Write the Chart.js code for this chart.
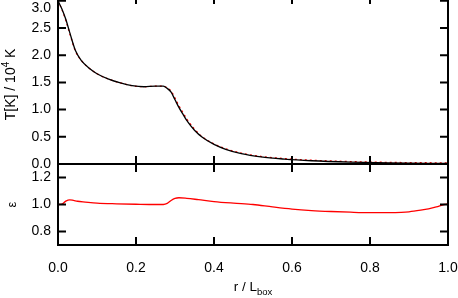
<!DOCTYPE html>
<html>
<head>
<meta charset="utf-8">
<script src="https://cdn.jsdelivr.net/npm/chart.js@4.4.1/dist/chart.umd.min.js"></script>
<style>
    html, body { margin: 0; padding: 0; background: #fff; overflow: hidden; }
    /* o topo da moldura fica 4px acima da janela, como no original */
    #grafico { display: block; margin-top: -4px; }
</style>
</head>
<body>
<canvas id="grafico" width="458" height="302"></canvas>
<script>
// Perfil de temperatura (painel de cima)
const raioT = [0, 0.01, 0.02, 0.03, 0.045, 0.06, 0.08, 0.1, 0.13, 0.16, 0.19, 0.22, 0.25, 0.27, 0.28,
    0.29, 0.30, 0.31, 0.32, 0.33, 0.35, 0.37, 0.40, 0.43, 0.47, 0.52, 0.58, 0.65, 0.75, 0.85, 1.0];
const tempPreto = [3.0, 2.85, 2.66, 2.42, 2.08, 1.9, 1.76, 1.66, 1.56, 1.49, 1.44, 1.42, 1.43, 1.43, 1.39,
    1.32, 1.18, 1.04, 0.92, 0.80, 0.62, 0.49, 0.36, 0.27, 0.19, 0.13, 0.09, 0.06, 0.035, 0.02, 0.01];
const tempVermelho = [3.0, 2.84, 2.64, 2.40, 2.07, 1.9, 1.76, 1.66, 1.56, 1.49, 1.44, 1.42, 1.43, 1.43, 1.40,
    1.34, 1.21, 1.07, 0.95, 0.83, 0.64, 0.50, 0.37, 0.28, 0.20, 0.14, 0.10, 0.07, 0.045, 0.03, 0.02];

// Razão epsilon (painel de baixo)
const raioEps = [0, 0.01, 0.02, 0.03, 0.04, 0.05, 0.07, 0.1, 0.15, 0.2, 0.25, 0.27, 0.28, 0.29, 0.30,
    0.31, 0.33, 0.36, 0.4, 0.45, 0.5, 0.55, 0.6, 0.65, 0.7, 0.75, 0.8, 0.85, 0.88, 0.9, 0.93, 0.95, 0.97, 0.99, 1.0];
const epsilon = [1.0, 1.002, 1.025, 1.035, 1.03, 1.024, 1.018, 1.01, 1.005, 1.002, 1.0, 1.0, 1.008, 1.03, 1.045,
    1.05, 1.046, 1.036, 1.022, 1.01, 1.0, 0.982, 0.966, 0.955, 0.948, 0.943, 0.94, 0.94, 0.942, 0.946, 0.958, 0.968, 0.982, 1.0, 1.005];

// Ticks e rótulos dos eixos
const ticksX = [0, 0.2, 0.4, 0.6, 0.8, 1.0];
const rotulosX = ['0.0', '0.2', '0.4', '0.6', '0.8', '1.0'];
const ticksT = [0, 0.5, 1.0, 1.5, 2.0, 2.5, 3.0];
const rotulosT = ['0.0', '0.5', '1.0', '1.5', '2.0', '2.5', '3.0'];
const ticksEps = [0.8, 1.0, 1.2];
const rotulosEps = ['0.8', '1.0', '1.2'];

const fonte = 'Liberation Sans';

function pares(xs, ys) {
    return xs.map((x, i) => ({ x: x, y: ys[i] }));
}

// Sem margens extras nas escalas
function semPadding(s) {
    s.paddingLeft = 0;
    s.paddingRight = 0;
    s.paddingTop = 0;
    s.paddingBottom = 0;
}

// Moldura e ticks para dentro, no estilo IDL
const molduraIDL = {
    id: 'molduraIDL',
    afterDatasetsDraw(chart) {
        const ctx = chart.ctx;
        const x = chart.scales.x;
        ctx.save();
        ctx.strokeStyle = '#000';
        ctx.lineWidth = 2;
        ['yT', 'yE'].forEach(id => {
            const y = chart.scales[id];
            ctx.strokeRect(x.left, y.top, x.right - x.left, y.bottom - y.top);
            ctx.beginPath();
            y.ticks.forEach(t => {
                const py = y.getPixelForValue(t.value);
                ctx.moveTo(x.left, py);
                ctx.lineTo(x.left + 8, py);
                ctx.moveTo(x.right, py);
                ctx.lineTo(x.right - 8, py);
            });
            x.ticks.forEach(t => {
                const px = x.getPixelForValue(t.value);
                ctx.moveTo(px, y.top);
                ctx.lineTo(px, y.top + 8);
                ctx.moveTo(px, y.bottom);
                ctx.lineTo(px, y.bottom - 8);
            });
            ctx.stroke();
        });
        ctx.restore();
    }
};

// Títulos dos eixos com sobrescrito e subscrito
function textoComIndice(ctx, partes, x, y) {
    let total = 0;
    partes.forEach(p => {
        ctx.font = p.tam + 'px "' + fonte + '"';
        total += ctx.measureText(p.t).width;
    });
    let px = x - total / 2;
    partes.forEach(p => {
        ctx.font = p.tam + 'px "' + fonte + '"';
        ctx.fillText(p.t, px, y + p.dy);
        px += ctx.measureText(p.t).width;
    });
}

const titulosEixos = {
    id: 'titulosEixos',
    afterDraw(chart) {
        const ctx = chart.ctx;
        const x = chart.scales.x;
        const yT = chart.scales.yT;
        const yE = chart.scales.yE;
        ctx.save();
        ctx.fillStyle = '#000';
        ctx.textBaseline = 'alphabetic';

        ctx.save();
        ctx.translate(15, (yT.getPixelForValue(0) + yT.getPixelForValue(3)) / 2 + 2);
        ctx.rotate(-Math.PI / 2);
        textoComIndice(ctx, [
            { t: 'T[K] / 10', tam: 14, dy: 0 },
            { t: '4', tam: 10, dy: -6 },
            { t: ' K', tam: 14, dy: 0 }
        ], 0, 0);
        ctx.restore();

        ctx.save();
        ctx.translate(16, yE.getPixelForValue(1));
        ctx.rotate(-Math.PI / 2);
        textoComIndice(ctx, [{ t: 'ε', tam: 13, dy: 0 }], 0, 0);
        ctx.restore();

        textoComIndice(ctx, [
            { t: 'r / L', tam: 13.5, dy: 0 },
            { t: 'box', tam: 9.5, dy: 4 }
        ], (x.left + x.right) / 2, x.bottom - 7);

        ctx.restore();
    }
};

new Chart(document.getElementById('grafico'), {
    type: 'line',
    data: {
        datasets: [
            {
                label: 'T preto',
                data: pares(raioT, tempPreto),
                yAxisID: 'yT',
                borderColor: '#000',
                borderWidth: 1.3,
                cubicInterpolationMode: 'monotone'
            },
            {
                label: 'T vermelho',
                data: pares(raioT, tempVermelho),
                yAxisID: 'yT',
                borderColor: '#ff0000',
                borderWidth: 1.3,
                borderDash: [2, 3],
                cubicInterpolationMode: 'monotone'
            },
            {
                label: 'epsilon',
                data: pares(raioEps, epsilon),
                yAxisID: 'yE',
                borderColor: '#ff0000',
                borderWidth: 1.3,
                cubicInterpolationMode: 'monotone'
            }
        ]
    },
    options: {
        responsive: false,
        animation: false,
        devicePixelRatio: 1,
        layout: { padding: { top: 0, right: 10, left: 0, bottom: 0 } },
        elements: { point: { radius: 0 } },
        plugins: {
            legend: { display: false },
            tooltip: { enabled: false }
        },
        scales: {
            x: {
                type: 'linear',
                min: 0,
                max: 1,
                grid: { display: false, drawTicks: false },
                border: { display: false },
                afterBuildTicks: s => { s.ticks = ticksX.map(v => ({ value: v })); },
                ticks: {
                    autoSkip: false,
                    maxRotation: 0,
                    padding: 15,
                    color: '#000',
                    font: { family: fonte, size: 14 },
                    callback: (v, i) => rotulosX[i]
                },
                afterFit: s => { s.height = 53; semPadding(s); }
            },
            yT: {
                type: 'linear',
                position: 'left',
                stack: 'paineis',
                stackWeight: 168,
                weight: 2,
                min: 0,
                max: 3.088,
                grid: { display: false, drawTicks: false },
                border: { display: false },
                afterBuildTicks: s => { s.ticks = ticksT.map(v => ({ value: v })); },
                ticks: {
                    autoSkip: false,
                    padding: 7,
                    color: '#000',
                    font: { family: fonte, size: 14, lineHeight: 1.0 },
                    // o rótulo 3.0 desce um pouco para caber na janela
                    callback: (v, i) => i === rotulosT.length - 1 ? ['', rotulosT[i]] : rotulosT[i]
                },
                afterFit: s => { s.width = 58; semPadding(s); }
            },
            yE: {
                type: 'linear',
                position: 'left',
                stack: 'paineis',
                stackWeight: 81,
                weight: 1,
                min: 0.7,
                max: 1.3,
                grid: { display: false, drawTicks: false },
                border: { display: false },
                afterBuildTicks: s => { s.ticks = ticksEps.map(v => ({ value: v })); },
                ticks: {
                    autoSkip: false,
                    padding: 7,
                    color: '#000',
                    font: { family: fonte, size: 14 },
                    callback: (v, i) => rotulosEps[i]
                },
                afterFit: s => { s.width = 58; semPadding(s); }
            }
        }
    },
    plugins: [molduraIDL, titulosEixos]
});
</script>
</body>
</html>
